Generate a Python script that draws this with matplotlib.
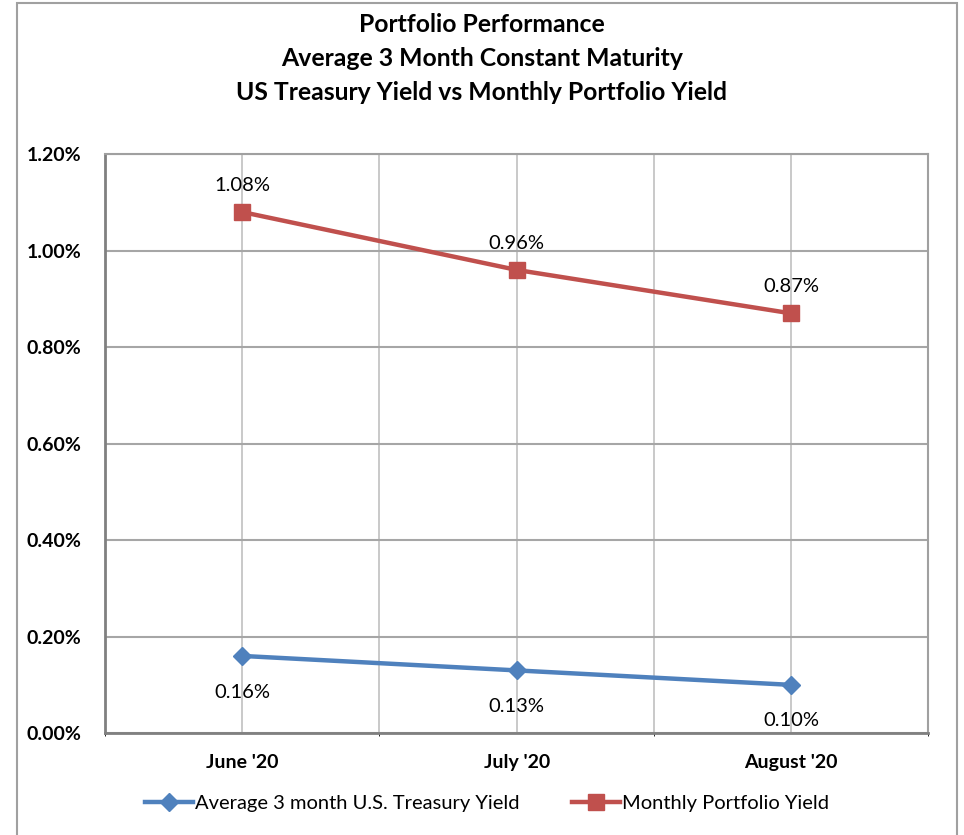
import matplotlib.pyplot as plt
from matplotlib.patches import Rectangle
from matplotlib.ticker import FuncFormatter, MultipleLocator

months = ["June '20", "July '20", "August '20"]
treasury = [0.16, 0.13, 0.10]
portfolio = [1.08, 0.96, 0.87]

plt.rcParams['font.family'] = ['Lato', 'DejaVu Sans']

blue = '#4F81BD'
red = '#C0504D'

fig = plt.figure(figsize=(9.64, 8.35), dpi=100)
ax = fig.add_axes([0.109, 0.122, 0.854, 0.6934])

xs = [i + 0.5 for i in range(len(months))]
ax.plot(xs, treasury, color=blue, lw=3.2, marker='D', ms=9,
        label='Average 3 month U.S. Treasury Yield', zorder=3)
ax.plot(xs, portfolio, color=red, lw=3.2, marker='s', ms=11,
        label='Monthly Portfolio Yield', zorder=3)

for x, v in zip(xs, treasury):
    ax.annotate('{:.2f}%'.format(v), (x, v), xytext=(0, -26), textcoords='offset points',
                ha='center', va='center', fontsize=14.5, color='black')
for x, v in zip(xs, portfolio):
    ax.annotate('{:.2f}%'.format(v), (x, v), xytext=(0, 19), textcoords='offset points',
                ha='center', va='center', fontsize=14.5, color='black')

ax.set_xlim(0, 3)
ax.set_ylim(0, 1.2)
ax.set_xticks(xs)
ax.set_xticklabels(months, fontsize=14, fontweight='bold')
ax.xaxis.set_minor_locator(MultipleLocator(0.5))
ax.yaxis.set_major_locator(MultipleLocator(0.2))
ax.yaxis.set_major_formatter(FuncFormatter(lambda v, p: '{:.2f}%'.format(v)))
for lab in ax.get_yticklabels():
    lab.set_fontsize(14)
    lab.set_fontweight('bold')
ax.tick_params(axis='both', length=0)
ax.tick_params(axis='x', pad=15)
ax.tick_params(axis='y', pad=17)
ax.grid(True, which='both', axis='x', color='#c0c0c0', lw=1.2)
ax.grid(True, which='major', axis='y', color='#a6a6a6', lw=1.5)
ax.set_axisbelow(True)
for name, sp in ax.spines.items():
    sp.set_color('#a0a0a0')
    sp.set_linewidth(1.5)
ax.spines['left'].set_color('#808080')
ax.spines['bottom'].set_color('#808080')
ax.spines['left'].set_linewidth(2)
ax.spines['bottom'].set_linewidth(2)

fig.text(0.5, 0.985, 'Portfolio Performance\nAverage 3 Month Constant Maturity\nUS Treasury Yield vs Monthly Portfolio Yield',
         ha='center', va='top', fontsize=17.8, fontweight='bold', linespacing=1.58)

fig.legend(loc='center', bbox_to_anchor=(0.505, 0.038), ncol=2, frameon=False,
           fontsize=14.5, handlelength=2.4, handletextpad=0.1, columnspacing=2.6)

fig.patches.append(Rectangle((17 / 964, -0.05), 940 / 964, 1.05 - 3 / 835, transform=fig.transFigure,
                             fill=False, edgecolor='#a0a0a0', lw=1.5))

fig.savefig('out.png', dpi=100)
